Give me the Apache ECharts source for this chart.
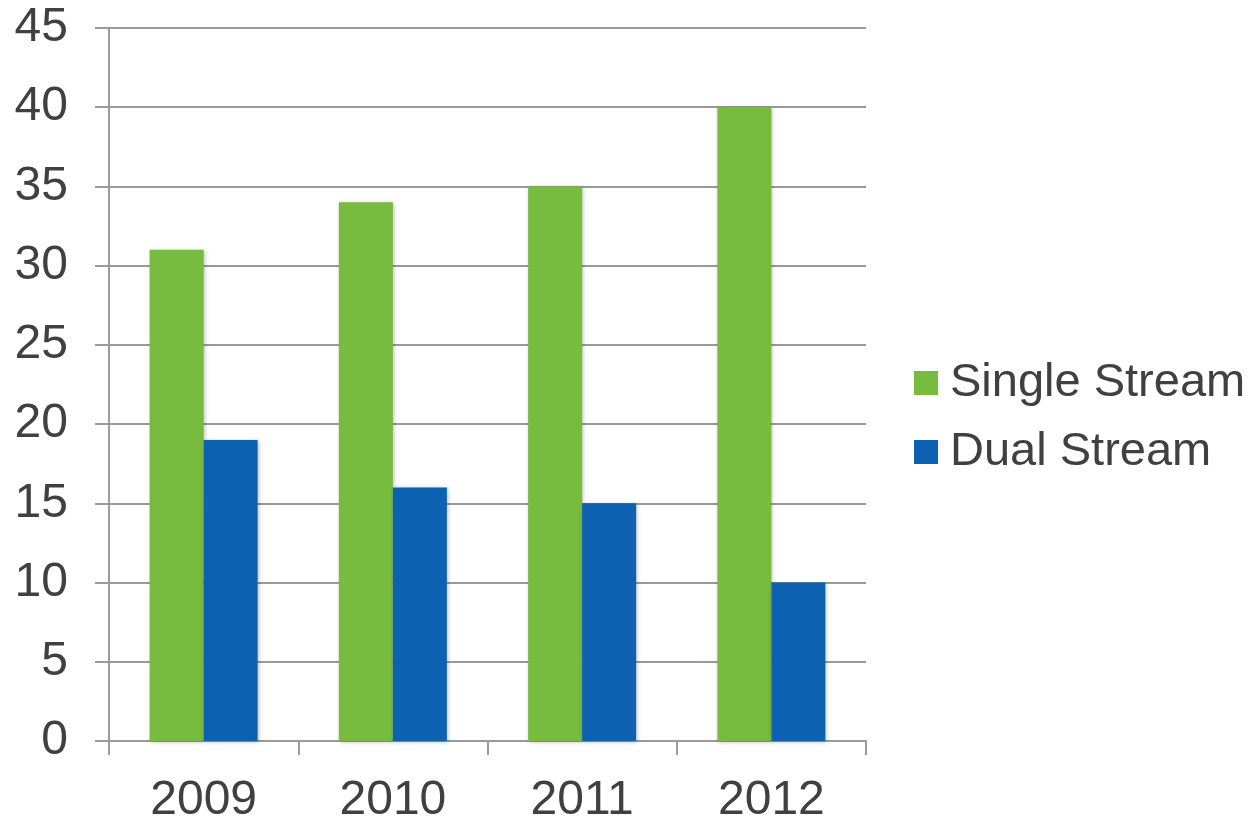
<!DOCTYPE html>
<html><head><meta charset="utf-8">
<script src="https://cdn.jsdelivr.net/npm/echarts@6/dist/echarts.min.js"></script>
<style>html,body{margin:0;padding:0;background:#fff}#c{width:1255px;height:817px}</style>
</head><body><div id="c"></div>
<script>
const categories = ['2009', '2010', '2011', '2012'];
const singleStream = [31, 34, 35, 40];
const dualStream = [19, 16, 15, 10];
const seriesNames = ['Single Stream', 'Dual Stream'];

const chart = echarts.init(document.getElementById('c'), null, {renderer: 'canvas'});
const font = 'Liberation Sans, Arial, sans-serif';
const gridColor = '#9a9a9a';
const textColor = '#404040';
chart.setOption({
  animation: false,
  grid: {left: 109, right: 389, top: 28, bottom: 76, containLabel: false, outerBoundsMode: 'none'},
  legend: {
    orient: 'vertical', left: 909, top: 354,
    itemWidth: 24, itemHeight: 24, itemGap: 21, icon: 'rect',
    textStyle: {fontFamily: font, fontSize: 47, color: textColor, padding: [0, 0, 0, 7], lineHeight: 48},
    data: seriesNames
  },
  xAxis: {
    type: 'category', data: categories,
    axisLine: {show: true, lineStyle: {color: gridColor, width: 2}},
    axisTick: {show: true, length: 14, lineStyle: {color: gridColor, width: 2}},
    axisLabel: {fontFamily: font, fontSize: 48, color: textColor, margin: 36}
  },
  yAxis: {
    type: 'value', min: 0, max: 45, interval: 5,
    axisLine: {show: true, lineStyle: {color: gridColor, width: 2}},
    axisTick: {show: true, length: 14, lineStyle: {color: gridColor, width: 2}},
    splitLine: {show: true, lineStyle: {color: gridColor, width: 2}},
    axisLabel: {fontFamily: font, fontSize: 48, color: textColor, margin: 41}
  },
  series: [
    {name: seriesNames[0], type: 'bar', data: singleStream, barWidth: 54, barGap: '0%',
     itemStyle: {color: '#77bb3f', shadowBlur: 4, shadowColor: 'rgba(0,0,0,0.25)', shadowOffsetX: 1, shadowOffsetY: 1}},
    {name: seriesNames[1], type: 'bar', data: dualStream, barWidth: 54, barGap: '0%',
     itemStyle: {color: '#0c61b1', shadowBlur: 4, shadowColor: 'rgba(0,0,0,0.25)', shadowOffsetX: 1, shadowOffsetY: 1}}
  ]
});
</script></body></html>
